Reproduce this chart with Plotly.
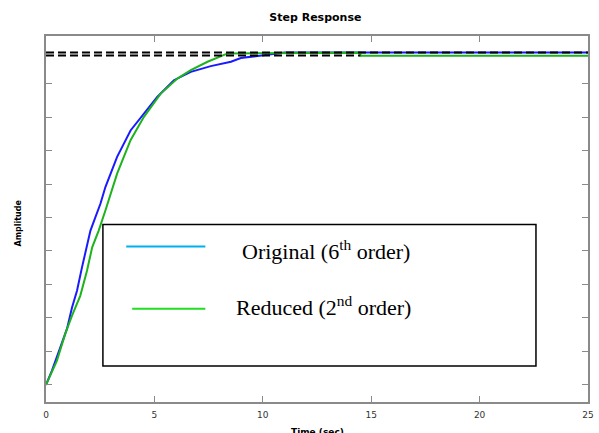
import plotly.graph_objects as go

# Step response samples (time in seconds, amplitude)
t_orig = [0, 0.27, 0.66, 0.97, 1.20, 1.43, 1.66, 1.89, 2.05, 2.28, 2.51, 2.74,
          3.28, 3.90, 4.51, 5.13, 5.90, 6.68, 7.60, 8.53, 8.99, 10.04, 11.0, 25]
y_orig = [0, 0.042, 0.112, 0.168, 0.231, 0.281, 0.351, 0.421, 0.461, 0.501, 0.541, 0.591,
          0.681, 0.760, 0.810, 0.860, 0.910, 0.935, 0.952, 0.965, 0.976, 0.985, 0.993, 0.993]

t_red = [0, 0.50, 0.89, 1.20, 1.58, 1.89, 2.13, 2.43, 2.74, 3.28, 3.90, 4.51,
         5.29, 6.06, 6.68, 7.45, 8.38, 14.5, 14.5, 25]
y_red = [0, 0.072, 0.153, 0.207, 0.266, 0.341, 0.411, 0.461, 0.521, 0.631, 0.731, 0.800,
         0.870, 0.915, 0.940, 0.965, 0.990, 0.992, 0.983, 0.983]

# Steady-state reference levels and their extents
ss_levels = [0.993, 0.984]
ss_ends = [25, 14.5]

x_ticks = [0, 5, 10, 15, 20, 25]
y_ticks = [0, 0.1, 0.2, 0.3, 0.4, 0.5, 0.6, 0.7, 0.8, 0.9]

fig = go.Figure()
fig.add_trace(go.Scatter(x=t_orig, y=y_orig, mode="lines",
                         line=dict(color="#1a1aff", width=2), showlegend=False))
fig.add_trace(go.Scatter(x=t_red, y=y_red, mode="lines",
                         line=dict(color="#1db31d", width=2), showlegend=False))
for lvl, end in zip(ss_levels, ss_ends):
    fig.add_trace(go.Scatter(x=[0, end], y=[lvl, lvl], mode="lines",
                             line=dict(color="black", width=2, dash="8px,4px"),
                             showlegend=False))

axis_style = dict(showline=True, linecolor="#8a8a8a", linewidth=1.5, mirror="ticks",
                  ticks="inside", ticklen=6, tickcolor="#8a8a8a", tickwidth=1.2,
                  showgrid=False, zeroline=False, automargin=False)

fig.update_xaxes(range=[0, 25], tickvals=x_ticks, ticktext=[str(v) for v in x_ticks],
                 tickfont=dict(family="DejaVu Sans", size=9, color="#333333"),
                 ticklabelstandoff=3, **axis_style)
fig.update_yaxes(range=[-0.051, 1.042], tickvals=y_ticks, showticklabels=False, **axis_style)

# Legend box drawn in paper coordinates
fig.add_shape(type="rect", xref="paper", yref="paper", x0=0.105, x1=0.904, y0=0.0986, y1=0.485,
              line=dict(color="black", width=1.5), fillcolor="white", layer="above")
fig.add_shape(type="line", xref="paper", yref="paper", x0=0.148, x1=0.294, y0=0.4247, y1=0.4247,
              line=dict(color="#00b0f0", width=2), layer="above")
fig.add_shape(type="line", xref="paper", yref="paper", x0=0.159, x1=0.294, y0=0.2548, y1=0.2548,
              line=dict(color="#22dd22", width=2), layer="above")

legend_font = dict(family="Liberation Serif", size=22, color="black")
fig.add_annotation(xref="paper", yref="paper", x=0.517, y=0.414, xanchor="center",
                   yanchor="middle", showarrow=False,
                   text="Original (6<sup>th</sup> order)", font=legend_font)
fig.add_annotation(xref="paper", yref="paper", x=0.512, y=0.263, xanchor="center",
                   yanchor="middle", showarrow=False,
                   text="Reduced (2<sup>nd</sup> order)", font=legend_font)

# Axis titles
fig.add_annotation(xref="paper", yref="paper", x=0.5, y=-0.064, xanchor="center",
                   yanchor="top", showarrow=False, text="<b>Time (sec)</b>",
                   font=dict(family="DejaVu Sans", size=9, color="black"))
fig.add_annotation(xref="paper", yref="paper", x=-0.05, y=0.49, xanchor="center",
                   yanchor="middle", textangle=-90, showarrow=False,
                   text="<b>Amplitude</b>",
                   font=dict(family="DejaVu Sans", size=8, color="black"))

fig.update_layout(
    width=599, height=433,
    margin=dict(l=46, r=11, t=36, b=31),
    paper_bgcolor="white", plot_bgcolor="white",
    title=dict(text="<b>Step Response</b>", x=0.497, xref="paper", xanchor="center",
               y=1 - 17 / 433, yanchor="middle",
               font=dict(family="DejaVu Sans", size=11, color="black")),
)

fig.write_html("out.html")
